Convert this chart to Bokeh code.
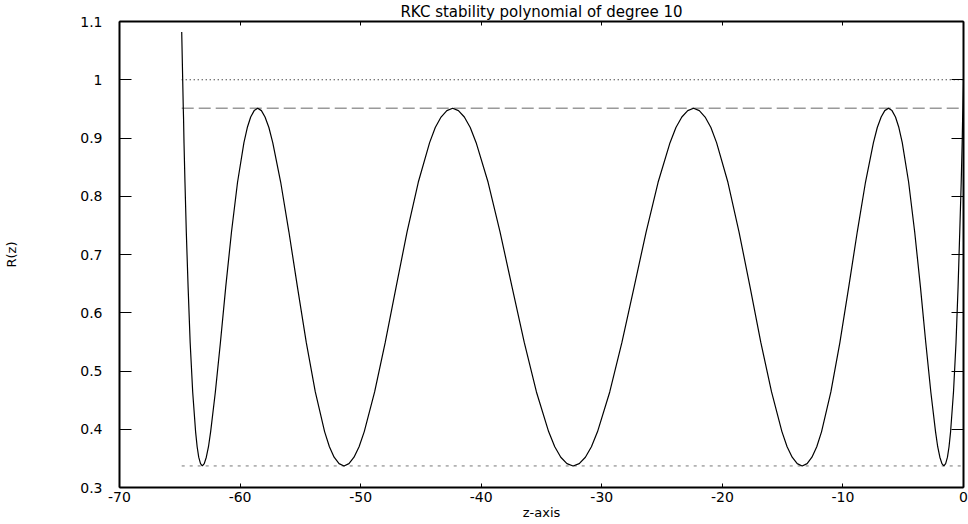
from bokeh.plotting import figure
from bokeh.models import Range1d, FixedTicker, LinearAxis
from bokeh.embed import file_html
from bokeh.resources import INLINE

# ---- data ----
Z = [-64.84, -64.71, -64.69, -64.65, -64.57, -64.46, -64.31, -64.14, -63.93, -63.69,
     -63.56, -63.43, -63.28, -63.13, -62.97, -62.80, -62.62, -62.44, -62.05, -61.63,
     -61.19, -60.71, -60.21, -59.68, -59.40, -59.12, -58.83, -58.54, -58.23, -57.93,
     -57.61, -57.29, -56.63, -55.95, -55.24, -54.51, -53.76, -52.99, -52.59, -52.20,
     -51.79, -51.38, -50.97, -50.55, -50.13, -49.70, -48.84, -47.96, -47.06, -46.15,
     -45.22, -44.28, -43.81, -43.33, -42.85, -42.37, -41.89, -41.40, -40.91, -40.42,
     -39.43, -38.44, -37.44, -36.43, -35.42, -34.41, -33.90, -33.40, -32.89, -32.38,
     -31.87, -31.36, -30.86, -30.35, -29.34, -28.33, -27.32, -26.32, -25.33, -24.34,
     -23.85, -23.36, -22.87, -22.39, -21.91, -21.43, -20.95, -20.48, -19.54, -18.62,
     -17.70, -16.81, -15.92, -15.06, -14.63, -14.21, -13.79, -13.38, -12.97, -12.57,
     -12.17, -11.77, -11.00, -10.25, -9.52, -8.81, -8.13, -7.47, -7.15, -6.83,
     -6.53, -6.22, -5.93, -5.64, -5.36, -5.08, -4.55, -4.05, -3.57, -3.13,
     -2.71, -2.32, -2.14, -1.96, -1.79, -1.63, -1.48, -1.33, -1.20, -1.07,
     -0.83, -0.62, -0.45, -0.31, -0.19, -0.11, -0.07, -0.05, 0.0]

R = [1.082, 0.951, 0.936, 0.892, 0.824, 0.739, 0.644, 0.549, 0.464, 0.396,
     0.370, 0.352, 0.341, 0.337, 0.341, 0.352, 0.370, 0.396, 0.464, 0.549,
     0.644, 0.739, 0.824, 0.892, 0.918, 0.936, 0.947, 0.951, 0.947, 0.936,
     0.918, 0.892, 0.824, 0.739, 0.644, 0.549, 0.464, 0.396, 0.370, 0.352,
     0.341, 0.337, 0.341, 0.352, 0.370, 0.396, 0.464, 0.549, 0.644, 0.739,
     0.824, 0.892, 0.918, 0.936, 0.947, 0.951, 0.947, 0.936, 0.918, 0.892,
     0.824, 0.739, 0.644, 0.549, 0.464, 0.396, 0.370, 0.352, 0.341, 0.337,
     0.341, 0.352, 0.370, 0.396, 0.464, 0.549, 0.644, 0.739, 0.824, 0.892,
     0.918, 0.936, 0.947, 0.951, 0.947, 0.936, 0.918, 0.892, 0.824, 0.739,
     0.644, 0.549, 0.464, 0.396, 0.370, 0.352, 0.341, 0.337, 0.341, 0.352,
     0.370, 0.396, 0.464, 0.549, 0.644, 0.739, 0.824, 0.892, 0.918, 0.936,
     0.947, 0.951, 0.947, 0.936, 0.918, 0.892, 0.824, 0.739, 0.644, 0.549,
     0.464, 0.396, 0.370, 0.352, 0.341, 0.337, 0.341, 0.352, 0.370, 0.396,
     0.464, 0.549, 0.644, 0.739, 0.824, 0.892, 0.936, 0.951, 1.000]

REF_LEVELS = [1.0, 0.951, 0.337]
REF_Z_START = [-64.84, -64.84, -64.84]
REF_Z_END = [0.0, 0.0, 0.0]

X_TICKS = [-70, -60, -50, -40, -30, -20, -10, 0]
X_TICK_LABELS = ["-70", "-60", "-50", "-40", "-30", "-20", "-10", "0"]
Y_TICKS = [0.3, 0.4, 0.5, 0.6, 0.7, 0.8, 0.9, 1.0, 1.1]
Y_TICK_LABELS = ["0.3", "0.4", "0.5", "0.6", "0.7", "0.8", "0.9", "1", "1.1"]

TITLE = "RKC stability polynomial of degree 10"
X_LABEL = "z-axis"
Y_LABEL = "R(z)"

FONT = "DejaVu Sans"

p = figure(width=968, height=524, output_backend="svg", toolbar_location=None,
           x_range=Range1d(-70, 0), y_range=Range1d(0.3, 1.1),
           title=TITLE)
p.min_border_left = 119
p.min_border_right = 5
p.min_border_top = 20
p.min_border_bottom = 37
p.grid.visible = False
p.outline_line_color = None
p.background_fill_color = "white"
p.border_fill_color = "white"

p.title.text_font = FONT
p.title.text_font_size = "15px"
p.title.text_font_style = "normal"
p.title.align = "center"
p.title.standoff = 1
p.title.text_color = "black"

x_over = {t: l for t, l in zip(X_TICKS, X_TICK_LABELS)}
y_over = {t: l for t, l in zip(Y_TICKS, Y_TICK_LABELS)}


def style(ax, ticks, tick_in, overrides=None, show_labels=True):
    ax.ticker = FixedTicker(ticks=ticks)
    ax.major_tick_in = tick_in
    ax.major_tick_out = 0
    ax.minor_tick_in = 0
    ax.minor_tick_out = 0
    ax.axis_line_color = "black"
    ax.axis_line_width = 2
    ax.major_tick_line_color = "black"
    ax.major_tick_line_width = 1
    if show_labels:
        ax.major_label_overrides = overrides
        ax.major_label_text_font = FONT
        ax.major_label_text_font_size = "14px"
        ax.major_label_text_color = "black"
    else:
        ax.major_label_text_font_size = "1px"
        ax.major_label_text_color = None
        ax.major_label_standoff = 0


xb = p.xaxis[0]
yl = p.yaxis[0]
style(xb, X_TICKS, 4, x_over)
style(yl, Y_TICKS, 12, y_over)
xb.major_label_standoff = 4
yl.major_label_standoff = 17
xb.axis_label = X_LABEL
yl.axis_label = Y_LABEL
for ax in (xb, yl):
    ax.axis_label_text_font = FONT
    ax.axis_label_text_font_size = "13px"
    ax.axis_label_text_font_style = "normal"
    ax.axis_label_text_color = "black"
xb.axis_label_standoff = 0
yl.axis_label_standoff = 58

xt = LinearAxis()
style(xt, X_TICKS, 4, show_labels=False)
p.add_layout(xt, "above")
yr = LinearAxis()
style(yr, Y_TICKS, 12, show_labels=False)
p.add_layout(yr, "right")

# reference levels
p.segment(x0=REF_Z_START[0], y0=REF_LEVELS[0], x1=REF_Z_END[0], y1=REF_LEVELS[0],
          line_color="black", line_width=1, line_dash="1 3")
p.segment(x0=REF_Z_START[1], y0=REF_LEVELS[1], x1=REF_Z_END[1], y1=REF_LEVELS[1],
          line_color="#999999", line_width=1.5, line_dash="12 5")
p.segment(x0=REF_Z_START[2], y0=REF_LEVELS[2], x1=REF_Z_END[2], y1=REF_LEVELS[2],
          line_color="#777777", line_width=1, line_dash="3 5")

# curve
p.line(Z, R, line_color="black", line_width=1.2)

open("out.html", "w").write(file_html(p, INLINE))
